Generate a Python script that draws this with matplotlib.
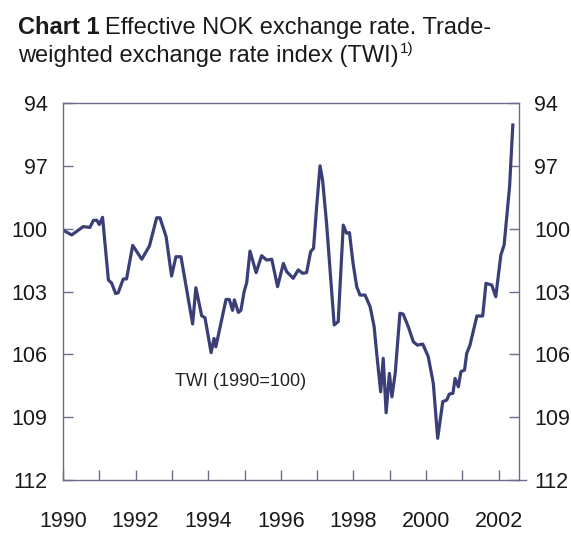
import matplotlib
matplotlib.use("Agg")
import matplotlib.pyplot as plt
from matplotlib.lines import Line2D

font = "Liberation Sans"

# Traced data (decimal year, TWI index)
years = [1990.0, 1990.24, 1990.56, 1990.74, 1990.84, 1990.93, 1991.0, 1991.09, 1991.25, 1991.34,
         1991.45, 1991.52, 1991.66, 1991.75, 1991.92, 1992.17, 1992.38, 1992.58, 1992.67, 1992.84,
         1992.99, 1993.11, 1993.25, 1993.57, 1993.66, 1993.82, 1993.91, 1994.08, 1994.16, 1994.21,
         1994.49, 1994.58, 1994.67, 1994.72, 1994.83, 1994.9, 1994.99, 1995.06, 1995.15, 1995.32,
         1995.47, 1995.61, 1995.75, 1995.91, 1996.07, 1996.16, 1996.34, 1996.48, 1996.6, 1996.71,
         1996.82, 1996.9, 1996.99, 1997.08, 1997.15, 1997.26, 1997.37, 1997.47, 1997.58, 1997.72,
         1997.81, 1997.89, 1997.99, 1998.09, 1998.18, 1998.32, 1998.46, 1998.57, 1998.64, 1998.75,
         1998.82, 1998.9, 1998.99, 1999.06, 1999.15, 1999.28, 1999.37, 1999.51, 1999.65, 1999.76,
         1999.91, 2000.06, 2000.2, 2000.32, 2000.46, 2000.57, 2000.64, 2000.74, 2000.8, 2000.89,
         2000.96, 2001.06, 2001.12, 2001.21, 2001.4, 2001.56, 2001.65, 2001.81, 2001.92, 2002.06,
         2002.15, 2002.3, 2002.39]
twi = [100.07, 100.3, 99.9, 99.94, 99.6, 99.6, 99.8, 99.46, 102.45, 102.6,
       103.1, 103.06, 102.4, 102.4, 100.8, 101.46, 100.83, 99.48, 99.48, 100.38,
       102.26, 101.34, 101.34, 104.55, 102.82, 104.16, 104.25, 105.92, 105.24, 105.64,
       103.38, 103.38, 103.9, 103.4, 104.0, 103.9, 103.0, 102.58, 101.07, 102.1,
       101.29, 101.5, 101.46, 102.77, 101.66, 102.05, 102.37, 101.97, 102.13, 102.1,
       101.1, 100.94, 98.87, 97.0, 97.68, 99.75, 102.3, 104.6, 104.44, 99.83,
       100.22, 100.19, 101.66, 102.77, 103.17, 103.17, 103.73, 104.68, 105.95, 107.79,
       106.19, 108.79, 106.91, 108.03, 106.91, 104.04, 104.08, 104.68, 105.4, 105.56,
       105.51, 106.11, 107.39, 110.01, 108.26, 108.18, 107.9, 107.86, 107.15, 107.55,
       106.83, 106.75, 105.95, 105.56, 104.17, 104.17, 102.61, 102.69, 103.25, 101.26,
       100.78, 98.0, 95.05]

ytick_vals = [94, 97, 100, 103, 106, 109, 112]
year_ticks = list(range(1990, 2003))

line_color = "#3b3f78"
spine_color = "#6a6e8c"
text_color = "#1a1a1a"

fig = plt.figure(figsize=(5.71, 5.35), dpi=100)
ax = fig.add_axes([63/571, 1-480/535, (519-63)/571, (480-103)/535])
ax.plot(years, twi, color=line_color, lw=2.3, solid_joinstyle="round")
ax.set_xlim(1990, 2002.56)
ax.set_ylim(112, 94)

ax.set_yticks(ytick_vals)
ax.set_yticklabels([str(v) for v in ytick_vals], fontfamily=font, fontsize=15.5, color=text_color)
ax.set_xticks(year_ticks)
ax.set_xticklabels([str(y) if y % 2 == 0 else "" for y in year_ticks], fontfamily=font,
                   fontsize=15.5, color=text_color)
ax.tick_params(axis="y", direction="in", length=7, width=1, color=spine_color,
               left=True, right=True, labelleft=True, labelright=True, pad=11)
ax.tick_params(axis="x", direction="in", length=7, width=1, color=spine_color, pad=22)
for s in ax.spines.values():
    s.set_color(spine_color)
    s.set_linewidth(1)

# bottom axis line extends slightly beyond the right spine
fig.add_artist(Line2D([519/571, 526/571], [1-480/535, 1-480/535], color=spine_color, lw=1))

ax.text(1993.09, 107.3, "TWI (1990=100)", fontfamily=font, fontsize=13,
        ha="left", va="center", color="#222222")

W, H = 571, 535
title_x = 18 / W
t = fig.text(title_x, 1-34/H, "Chart 1", fontsize=17, fontweight="bold", fontfamily=font,
             ha="left", va="baseline", color=text_color)
fig.canvas.draw()
bb = t.get_window_extent()
fig.text(bb.x1/W + 5/W, 1-34/H, "Effective NOK exchange rate. Trade-", fontsize=17,
         fontfamily=font, ha="left", va="baseline", color=text_color)
t2 = fig.text(title_x, 1-62/H, "weighted exchange rate index (TWI)", fontsize=17,
              fontfamily=font, ha="left", va="baseline", color=text_color)
fig.canvas.draw()
bb2 = t2.get_window_extent()
fig.text(bb2.x1/W + 1/W, 1-53/H, "1)", fontsize=11, fontfamily=font,
         ha="left", va="baseline", color=text_color)

fig.savefig("out.png", dpi=100)
